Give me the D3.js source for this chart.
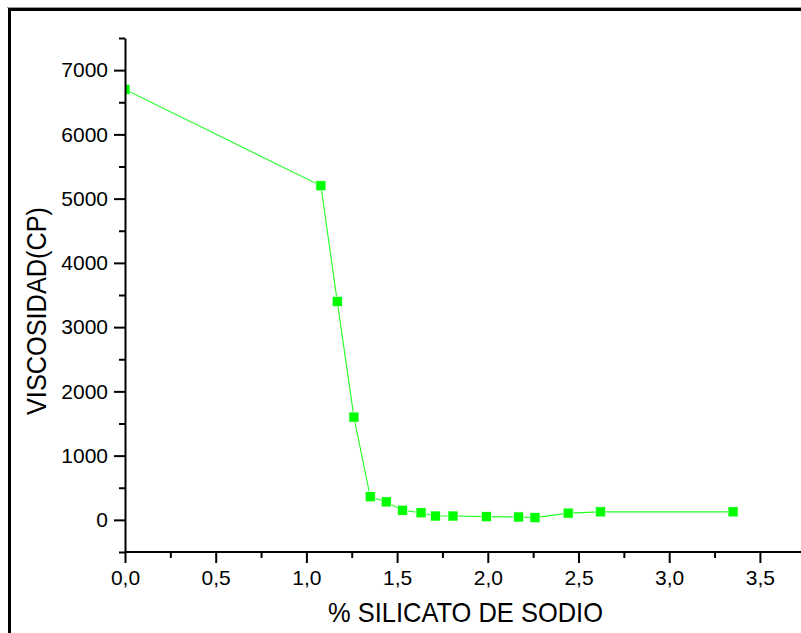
<!DOCTYPE html>
<html>
<head>
<meta charset="utf-8">
<script src="https://cdn.jsdelivr.net/npm/d3@7"></script>
<style>
  html, body { margin: 0; padding: 0; background: #fff; }
  svg { display: block; }
  text { font-family: "Liberation Sans", Arial, sans-serif; fill: #000; }
</style>
</head>
<body>
<svg id="chart" width="801" height="633"></svg>
<script>
// % sodium silicate vs. viscosity (cP)
const silicato = [0.0, 1.08, 1.17, 1.262, 1.352, 1.44, 1.53, 1.632, 1.711, 1.808, 1.992, 2.17, 2.26, 2.443, 2.621, 3.352];
const viscosidad = [6700, 5200, 3400, 1600, 360, 280, 150, 110, 60, 60, 50, 45, 35, 105, 125, 125];

const xMajorTicks = [0, 0.5, 1.0, 1.5, 2.0, 2.5, 3.0, 3.5];
const xMinorTicks = [0.25, 0.75, 1.25, 1.75, 2.25, 2.75, 3.25, 3.75];
const yMajorTicks = [0, 1000, 2000, 3000, 4000, 5000, 6000, 7000];
const yMinorTicks = [-500, 500, 1500, 2500, 3500, 4500, 5500, 6500, 7500];

const xTitle = "% SILICATO DE SODIO";
const yTitle = "VISCOSIDAD(CP)";

const svg = d3.select("#chart");

// page frame
svg.append("line").attr("x1", 7).attr("x2", 801).attr("y1", 7.5).attr("y2", 7.5)
  .attr("stroke", "#9a9a9a").attr("stroke-width", 1);
svg.append("rect").attr("x", 9.5).attr("y", 9.5).attr("width", 900).attr("height", 700)
  .attr("fill", "none").attr("stroke", "#000").attr("stroke-width", 3);

const x = d3.scaleLinear().domain([0, 3.75]).range([125, 125 + 3.75 * 181.4]);
const y = d3.scaleLinear().domain([-500, 7500]).range([552, 38]);

const fmtComma = d => d3.format(".1f")(d).replace(".", ",");

// clip series to the plotting area
svg.append("defs").append("clipPath").attr("id", "plotClip")
  .append("rect").attr("x", x(0)).attr("y", y(7500)).attr("width", 800 - x(0)).attr("height", y(-500) - y(7500));

const plot = svg.append("g").attr("clip-path", "url(#plotClip)");

const line = d3.line().x((d, i) => x(silicato[i])).y(d => y(d));
plot.append("path").datum(viscosidad)
  .attr("d", line)
  .attr("fill", "none")
  .attr("stroke", "#22ff22")
  .attr("stroke-width", 1.1);

const ms = 10;
plot.selectAll("rect.pt").data(viscosidad).join("rect")
  .attr("class", "pt")
  .attr("x", (d, i) => x(silicato[i]) - ms / 2)
  .attr("y", d => y(d) - ms / 2)
  .attr("width", ms).attr("height", ms)
  .attr("fill", "#00ff00")
  .attr("stroke", "#ffffff").attr("stroke-width", 0.6);

// x axis
const xAxis = svg.append("g").attr("transform", `translate(0,${y(-500)})`)
  .call(d3.axisBottom(x).tickValues(xMajorTicks).tickFormat(fmtComma).tickSize(11).tickPadding(7).tickSizeOuter(0));
xAxis.append("g").call(d3.axisBottom(x).tickValues(xMinorTicks).tickSize(6).tickFormat("").tickSizeOuter(0))
  .select(".domain").remove();
xAxis.select(".domain").attr("d", `M${x(0)},0H801`);

// y axis
const yAxis = svg.append("g").attr("transform", `translate(${x(0)},0)`)
  .call(d3.axisLeft(y).tickValues(yMajorTicks).tickFormat(d3.format("d")).tickSize(11).tickPadding(6).tickSizeOuter(0));
yAxis.append("g").call(d3.axisLeft(y).tickValues(yMinorTicks).tickSize(6).tickFormat("").tickSizeOuter(0))
  .select(".domain").remove();

svg.selectAll(".domain").attr("stroke", "#000").attr("stroke-width", 2);
svg.selectAll(".tick line").attr("stroke", "#000").attr("stroke-width", 2);
svg.selectAll(".tick text")
  .style("font-family", '"Liberation Sans", Arial, sans-serif')
  .style("font-size", "21px").attr("fill", "#000");

// axis titles
svg.append("text")
  .attr("x", 465.5).attr("y", 621.5)
  .attr("text-anchor", "middle")
  .attr("textLength", 275).attr("lengthAdjust", "spacingAndGlyphs")
  .style("font-size", "28px")
  .text(xTitle);

svg.append("text")
  .attr("transform", "translate(46,311) rotate(-90)")
  .attr("text-anchor", "middle")
  .attr("textLength", 208).attr("lengthAdjust", "spacingAndGlyphs")
  .style("font-size", "28px")
  .text(yTitle);
</script>
</body>
</html>
